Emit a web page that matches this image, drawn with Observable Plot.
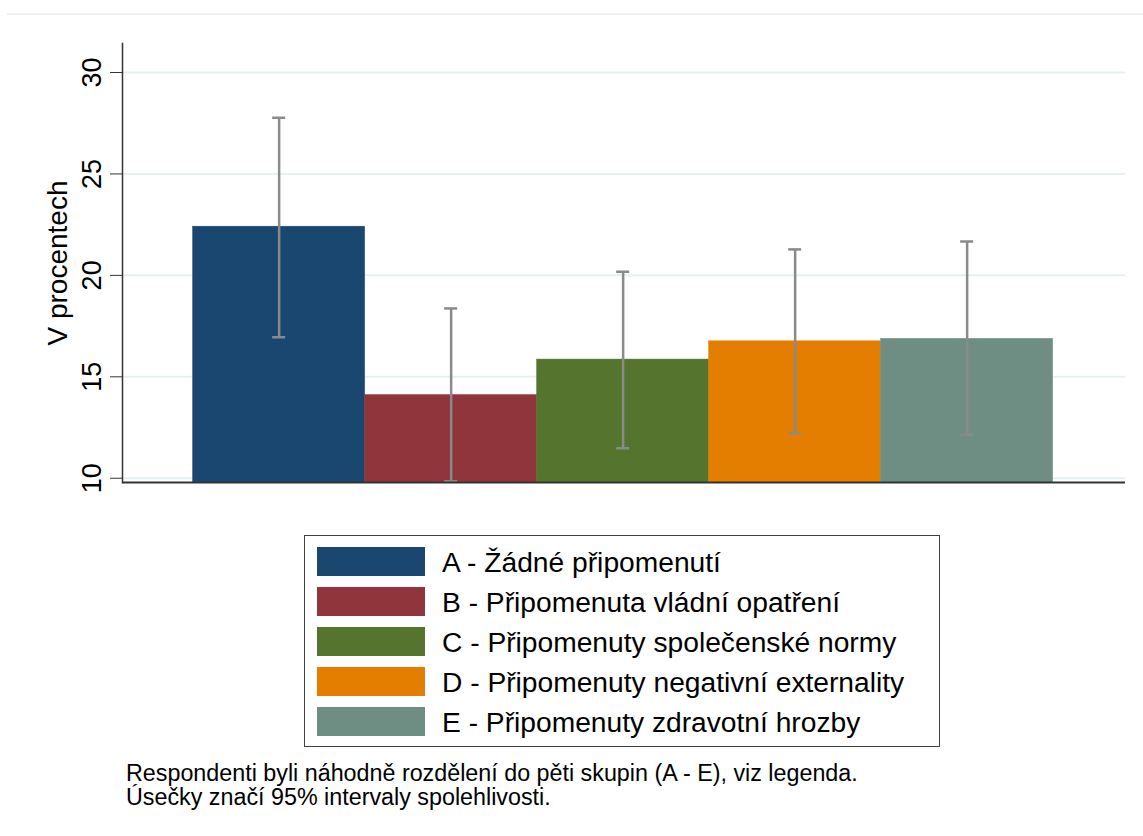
<!DOCTYPE html>
<html>
<head>
<meta charset="utf-8">
<script src="https://cdn.jsdelivr.net/npm/d3@7"></script>
<script src="https://cdn.jsdelivr.net/npm/@observablehq/plot@0.6"></script>
<style>
  html, body { margin: 0; padding: 0; background: #fff; }
  body { width: 1143px; height: 836px; position: relative; overflow: hidden;
         font-family: "Liberation Sans", Arial, sans-serif; color: #000; }
  #topline { position: absolute; left: 7px; top: 13px; width: 1136px; height: 0;
             border-top: 2px solid #edf2f3; }
  #chart { position: absolute; left: 0; top: 0; }
  #legend { position: absolute; left: 304px; top: 535px; width: 634px; height: 210px;
            border: 1.5px solid #404040; box-sizing: content-box; }
  .row { position: absolute; left: 12px; height: 29px; display: flex; align-items: center; }
  .sw { width: 108px; height: 29px; box-sizing: border-box; }
  .lab { margin-left: 17px; font-size: 28.2px; white-space: nowrap; line-height: 29px; position: relative; top: 1px; }
  #caption { position: absolute; left: 126px; top: 761px; font-size: 23.3px; line-height: 24px; white-space: nowrap; }
</style>
</head>
<body>
<div id="topline"></div>
<div id="chart"></div>
<div id="legend"></div>
<div id="caption">Respondenti byli náhodně rozdělení do pěti skupin (A - E), viz legenda.<br>Úsečky značí 95% intervaly spolehlivosti.</div>
<script>
// ---- data ----
const categories = ["A", "B", "C", "D", "E"];
const labels = [
  "A - Žádné připomenutí",
  "B - Připomenuta vládní opatření",
  "C - Připomenuty společenské normy",
  "D - Připomenuty negativní externality",
  "E - Připomenuty zdravotní hrozby"
];
const values = [22.4, 14.1, 15.85, 16.75, 16.87];
const ciLow  = [16.95, 9.85, 11.48, 12.22, 12.15];
const ciHigh = [27.77, 18.37, 20.18, 21.28, 21.67];
const colors = ["#1a476f", "#90353b", "#55752f", "#e37e00", "#6e8e84"];
const yTicks = [10, 15, 20, 25, 30];
const yDomain = [9.79, 31.43];
const yLabel = "V procentech";

const data = categories.map((c, i) => ({cat: c, value: values[i], lo: ciLow[i], hi: ciHigh[i], color: colors[i]}));

const chart = Plot.plot({
  width: 1143,
  height: 500,
  marginLeft: 122,
  marginRight: 18,
  marginTop: 43,
  marginBottom: 18,
  style: {fontFamily: "'Liberation Sans', Arial, sans-serif", fontSize: "27px", color: "#000", background: "transparent"},
  x: {type: "band", domain: categories, paddingInner: 0, paddingOuter: 0.4157, align: 0.494, round: false, axis: null},
  y: {domain: yDomain, axis: null},
  marks: [
    Plot.gridY(yTicks, {stroke: "#e6eff1", strokeOpacity: 1, strokeWidth: 2}),
    Plot.barY(data, {x: "cat", y1: yDomain[0], y2: "value", fill: "color", stroke: "color", strokeWidth: 0.5}),
    Plot.ruleX(data, {x: "cat", y1: "lo", y2: "hi", stroke: "#8a8a8a", strokeWidth: 2.5}),
    Plot.tickY(data, {x: "cat", y: "hi", stroke: "#8a8a8a", strokeWidth: 2.5, inset: 79.5}),
    Plot.tickY(data, {x: "cat", y: "lo", stroke: "#8a8a8a", strokeWidth: 2.5, inset: 79.5}),
    Plot.axisY({ticks: yTicks, tickSize: 12, tickRotate: -90, tickPadding: 10, fontSize: 27, label: null, stroke: "#333", fill: "#000"}),
    Plot.frame({anchor: "left", stroke: "#333", strokeWidth: 1.5}),
    Plot.ruleY([yDomain[0]], {stroke: "#333", strokeWidth: 2}),
    Plot.text([yLabel], {frameAnchor: "left", rotate: -90, dx: -56, textAnchor: "middle", lineAnchor: "bottom", fontSize: 28, fill: "#000"})
  ]
});
document.getElementById("chart").appendChild(chart);

// legend
const legend = document.getElementById("legend");
labels.forEach((t, i) => {
  const row = document.createElement("div");
  row.className = "row";
  row.style.top = (11 + i * 40) + "px";
  const sw = document.createElement("div");
  sw.className = "sw";
  sw.style.background = colors[i];
  const lab = document.createElement("div");
  lab.className = "lab";
  lab.textContent = t;
  row.appendChild(sw);
  row.appendChild(lab);
  legend.appendChild(row);
});
</script>
</body>
</html>
